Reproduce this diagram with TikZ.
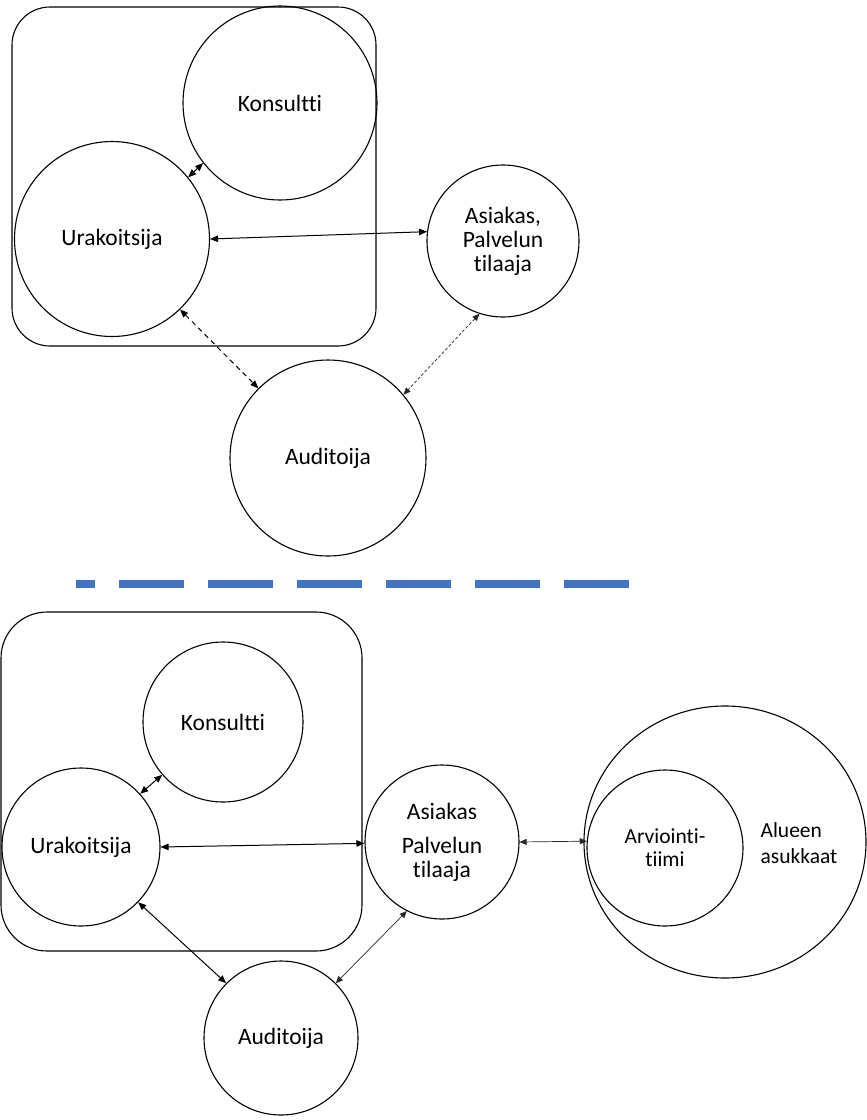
\documentclass[tikz,border=0pt]{standalone}
\usepackage{fontspec}
\setmainfont{Carlito}[Ligatures=NoCommon]
\usetikzlibrary{arrows.meta,shapes.geometric}
\definecolor{sepblue}{HTML}{4472C4}
\begin{document}
\begin{tikzpicture}[x=1pt,y=-1pt,
  party/.style={circle,draw,line width=1.1pt,inner sep=0pt,align=center,
    font=\fontsize{23.5}{24}\selectfont},
  smallparty/.style={party,font=\fontsize{21.5}{23}\selectfont},
  group/.style={draw,line width=1.1pt},
  link/.style={{Triangle[length=8pt,width=6.5pt]}-{Triangle[length=8pt,width=6.5pt]},line width=1pt},
  dlink/.style={link,dash pattern=on 5pt off 4pt},
  thinlink/.style={{Triangle[length=7pt,width=6pt]}-{Triangle[length=7pt,width=6pt]},line width=0.7pt,black!85},
  tdlink/.style={thinlink,dash pattern=on 3pt off 2pt},
]
\useasboundingbox (0,0) rectangle (867,1120);

% ---------- upper arrangement ----------
\draw[group,rounded corners=38pt] (12,7) rectangle (376,346);
\node[party,minimum size=194pt] (kon) at (280,103) {Konsultti};
\node[party,minimum size=195pt] (ura) at (112,239) {Urakoitsija};
\node[party,minimum size=152pt] (asi) at (503,241) {Asiakas,\\Palvelun\\tilaaja};
\node[party,minimum size=196pt] (aud) at (328,458) {Auditoija};

\draw[link] (ura.39.5) -- (kon.218.8);
\draw[link] (ura.0.6) -- (asi.173.9);
\draw[dlink] (ura.-46.6) -- (aud.135.4);
\draw[tdlink] (asi.-108) -- (aud.40.6);

% ---------- separator ----------
\coordinate (sepL) at (76,584);
\coordinate (sepR) at (629,584);
\draw[sepblue,line width=8pt,dash pattern=on 65pt off 24pt,dash phase=46pt] (sepL) -- (sepR);

% ---------- lower arrangement ----------
\draw[group,rounded corners=46pt] (1,612) rectangle (362,951);
\node[party,minimum size=160pt] (kon2) at (223,722) {Konsultti};
\node[party,minimum size=158pt] (ura2) at (81,847) {Urakoitsija};
\node[party,minimum size=154pt] (asi2) at (442,842) {Asiakas\\[10pt]Palvelun\\tilaaja};
\node[party,minimum size=154pt] (aud2) at (281,1038) {Auditoija};
\node[ellipse,draw,line width=1.1pt,minimum width=282pt,minimum height=272pt] (alu) at (725,842) {};
\node[smallparty,minimum size=156pt] (arv) at (665,848) {Arviointi-\\tiimi};
\node[font=\fontsize{21.5}{26}\selectfont,align=left] (alutxt) at (799,843) {Alueen\\asukkaat};

\draw[link] (ura2.42.5) -- (kon2.221.5);
\draw[link] (ura2.0.7) -- (asi2.181);
\draw[link] (ura2.-44.5) -- (aud2.135.5);
\draw[thinlink] (asi2.-117) -- (aud2.45.5);
\draw[thinlink] (asi2.0) -- (arv.175.6);
\end{tikzpicture}
\end{document}
